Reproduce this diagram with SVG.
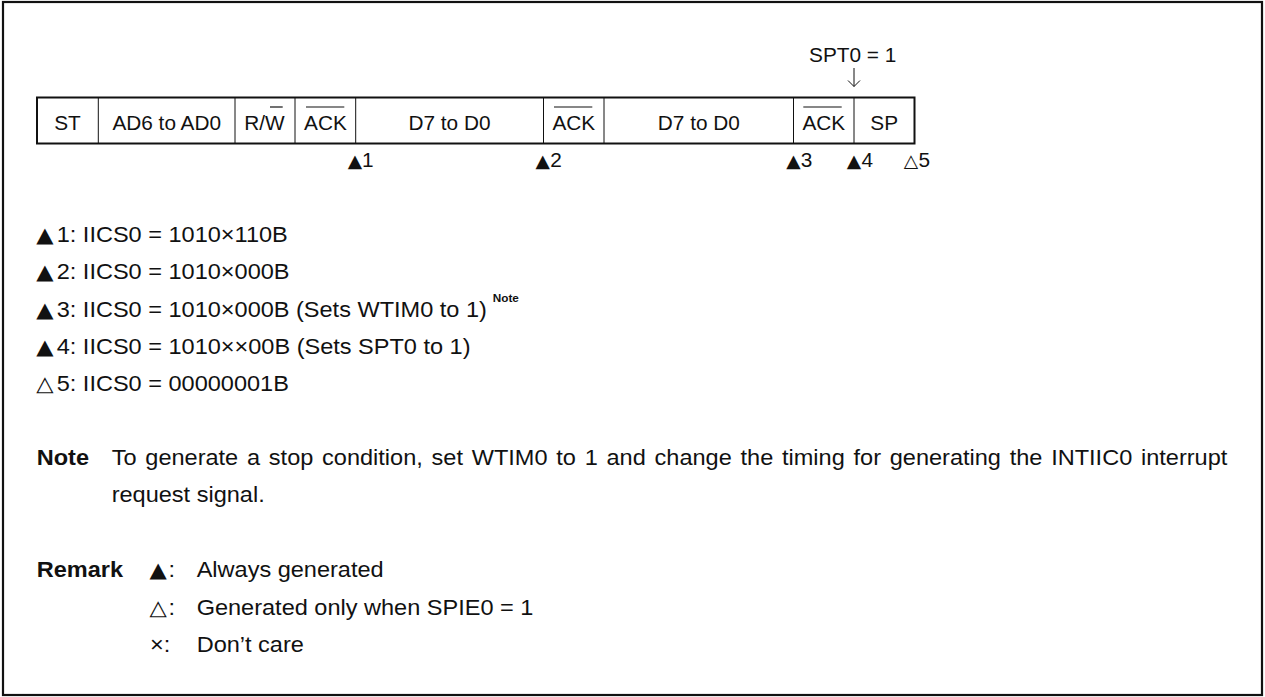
<svg xmlns="http://www.w3.org/2000/svg" width="1265" height="697" viewBox="0 0 1265 697">
<style>
  text { font-family: "Liberation Sans", Arial, Helvetica, sans-serif; fill: #111; }
  .f { font-size: 20px; }
  .m { font-size: 20px; }
  .l { font-size: 22px; }
  .b { font-weight: bold; }
  .tri { font-family: "DejaVu Sans", sans-serif; }
  .trim { font-size: 18px; }
  .tril { font-size: 21px; }
  .sup { font-size: 11px; font-weight: bold; }
  .thin { stroke: #111; stroke-width: 1; fill: none; }
  .thick { stroke: #111; stroke-width: 2; fill: none; }
  .ovl { stroke: #111; stroke-width: 1.2; }
</style>
<rect x="3" y="2" width="1259" height="693" fill="#fff" stroke="#111" stroke-width="2.2"/>

<g id="frame">
  <line class="thin" x1="98.3" y1="97.5" x2="98.3" y2="143.5"/>
  <line class="thin" x1="235" y1="97.5" x2="235" y2="143.5"/>
  <line class="thin" x1="295" y1="97.5" x2="295" y2="143.5"/>
  <line class="thin" x1="355.7" y1="97.5" x2="355.7" y2="143.5"/>
  <line class="thin" x1="543.5" y1="97.5" x2="543.5" y2="143.5"/>
  <line class="thin" x1="604" y1="97.5" x2="604" y2="143.5"/>
  <line class="thin" x1="793.5" y1="97.5" x2="793.5" y2="143.5"/>
  <line class="thin" x1="854" y1="97.5" x2="854" y2="143.5"/>
  <rect class="thick" x="37" y="97.5" width="877.5" height="46"/>
</g>

<g id="field-st"><text class="f" text-anchor="middle" transform="translate(67.5,130) scale(1.04,1)">ST</text></g>
<g id="field-addr"><text class="f" text-anchor="middle" transform="translate(166.7,130) scale(1.04,1)">AD6 to AD0</text></g>
<g id="field-rw"><text class="f" text-anchor="middle" transform="translate(264.5,130) scale(1.04,1)">R/W</text><line class="ovl" x1="270" y1="107" x2="282.7" y2="107"/></g>
<g id="field-ack1"><text class="f" text-anchor="middle" transform="translate(325.4,130) scale(1.04,1)">ACK</text><line class="ovl" x1="306" y1="107" x2="344.3" y2="107"/></g>
<g id="field-data1"><text class="f" text-anchor="middle" transform="translate(449.5,130) scale(1.04,1)">D7 to D0</text></g>
<g id="field-ack2"><text class="f" text-anchor="middle" transform="translate(573.8,130) scale(1.04,1)">ACK</text><line class="ovl" x1="554" y1="107" x2="592.3" y2="107"/></g>
<g id="field-data2"><text class="f" text-anchor="middle" transform="translate(698.8,130) scale(1.04,1)">D7 to D0</text></g>
<g id="field-ack3"><text class="f" text-anchor="middle" transform="translate(823.8,130) scale(1.04,1)">ACK</text><line class="ovl" x1="803.3" y1="107" x2="841.7" y2="107"/></g>
<g id="field-sp"><text class="f" text-anchor="middle" transform="translate(884.2,130) scale(1.04,1)">SP</text></g>

<g id="spt-label"><text class="f" text-anchor="middle" transform="translate(852.7,62.3) scale(1.04,1)">SPT0 = 1</text></g>

<g id="connectors">
  <path class="thin" d="M854,68 V86.5 M848,80.5 L854,86.5 L860,80.5"/>
</g>

<g id="markers" transform="scale(1.04,1)">
  <text class="m" y="167.5"><tspan class="tri trim" x="334.5">▲</tspan><tspan x="348">1</tspan></text>
  <text class="m" y="167.5"><tspan class="tri trim" x="515">▲</tspan><tspan x="529">2</tspan></text>
  <text class="m" y="167.5"><tspan class="tri trim" x="756">▲</tspan><tspan x="770">3</tspan></text>
  <text class="m" y="167.5"><tspan class="tri trim" x="814.3">▲</tspan><tspan x="828.4">4</tspan></text>
  <text class="m" y="167.5"><tspan class="tri trim" x="869.1">△</tspan><tspan x="883.2">5</tspan></text>
</g>

<g id="legend" transform="scale(1.07,1)">
  <text class="l" y="242"><tspan class="tri tril" x="33.8">▲</tspan><tspan x="53">1: IICS0 = 1010×110B</tspan></text>
  <text class="l" y="279.5"><tspan class="tri tril" x="33.8">▲</tspan><tspan x="53">2: IICS0 = 1010×000B</tspan></text>
  <text class="l" y="317"><tspan class="tri tril" x="33.8">▲</tspan><tspan x="53">3: IICS0 = 1010×000B (Sets WTIM0 to 1)</tspan><tspan class="sup" x="460.5" y="302">Note</tspan></text>
  <text class="l" y="354.5"><tspan class="tri tril" x="33.8">▲</tspan><tspan x="53">4: IICS0 = 1010××00B (Sets SPT0 to 1)</tspan></text>
  <text class="l" y="391.5"><tspan class="tri tril" x="33.8">△</tspan><tspan x="53">5: IICS0 = 00000001B</tspan></text>
</g>

<g id="note" transform="scale(1.07,1)">
  <text class="l b" x="34.3" y="465">Note</text>
  <text class="l" x="104.4" y="465" word-spacing="2.1">To generate a stop condition, set WTIM0 to 1 and change the timing for generating the INTIIC0 interrupt</text>
  <text class="l" x="104.4" y="502.5">request signal.</text>
</g>

<g id="remark" transform="scale(1.07,1)">
  <text class="l b" x="34.3" y="577">Remark</text>
  <text class="l" y="577"><tspan class="tri tril" x="139.8">▲</tspan><tspan x="157.5">:</tspan><tspan x="183.8">Always generated</tspan></text>
  <text class="l" y="615"><tspan class="tri tril" x="139.8">△</tspan><tspan x="157.5">:</tspan><tspan x="183.8">Generated only when SPIE0 = 1</tspan></text>
  <text class="l" y="652.5"><tspan x="140.2">×:</tspan><tspan x="183.8">Don’t care</tspan></text>
</g>
</svg>
